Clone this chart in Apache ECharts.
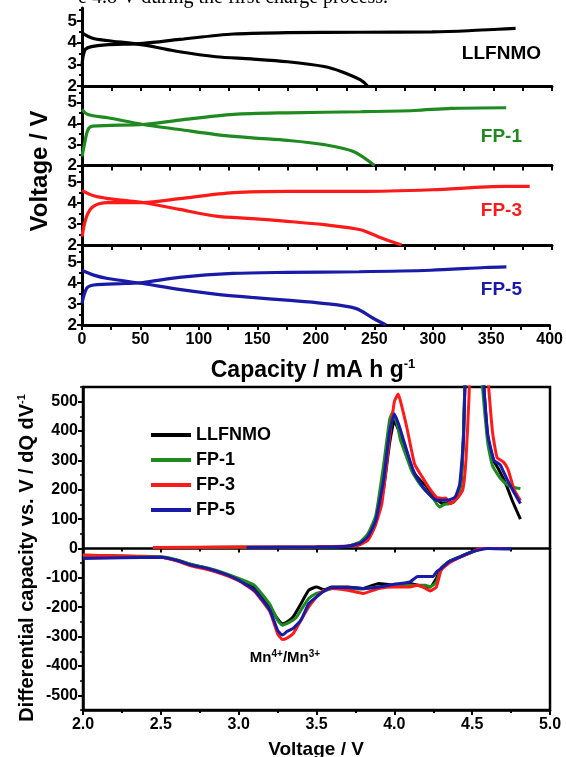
<!DOCTYPE html>
<html>
<head>
<meta charset="utf-8">
<script src="https://cdn.jsdelivr.net/npm/echarts@6/dist/echarts.min.js"></script>
<style>
  html, body { margin: 0; padding: 0; background: #fff; }
  #main { width: 566px; height: 757px; }
</style>
</head>
<body>
<div id="main"></div>
<script>
// names / colours of the four samples
var names = ['LLFNMO', 'FP-1', 'FP-3', 'FP-5']
var colors = ['#000000', '#1f8a1f', '#ff1a1a', '#1a1aa8']

// charge / discharge curves, [capacity mA h g-1, voltage V]
var llfnmoCharge = [[0, 2.9], [1, 3.4], [3, 3.7], [8, 3.82], [20, 3.9], [52, 3.97], [83, 4.15], [129, 4.4], [175, 4.46], [237, 4.48], [298, 4.5], [329, 4.55], [354, 4.62], [369, 4.66]]
var llfnmoDischarge = [[0, 4.45], [9, 4.2], [21, 4.1], [52, 3.9], [83, 3.58], [114, 3.35], [144, 3.25], [175, 3.12], [206, 2.9], [221, 2.66], [237, 2.28], [243, 2.0]]
var fp1Charge = [[0, 2.43], [2, 3.0], [5, 3.7], [9, 3.88], [52, 3.96], [83, 4.17], [129, 4.44], [175, 4.52], [237, 4.57], [283, 4.63], [314, 4.73], [361, 4.76]]
var fp1Discharge = [[0, 4.68], [5, 4.44], [22, 4.28], [52, 3.96], [83, 3.72], [114, 3.48], [145, 3.32], [175, 3.2], [206, 3.0], [231, 2.67], [249, 2.0]]
var fp3Charge = [[0, 2.4], [4, 3.38], [10, 3.86], [22, 4.03], [52, 4.03], [83, 4.22], [129, 4.5], [175, 4.56], [237, 4.56], [298, 4.64], [360, 4.8], [381, 4.8]]
var fp3Discharge = [[0, 4.6], [10, 4.35], [22, 4.22], [52, 4.03], [83, 3.7], [114, 3.38], [145, 3.26], [175, 3.13], [206, 2.97], [237, 2.73], [252, 2.4], [272, 2.0]]
var fp5Charge = [[0, 3.03], [4, 3.74], [10, 3.9], [37, 3.97], [52, 4.02], [83, 4.26], [129, 4.45], [175, 4.5], [237, 4.53], [298, 4.6], [345, 4.73], [363, 4.76]]
var fp5Discharge = [[0, 4.6], [10, 4.37], [22, 4.21], [52, 3.97], [83, 3.69], [114, 3.47], [145, 3.31], [175, 3.18], [206, 3.03], [234, 2.79], [249, 2.32], [260, 2.0]]

// dQ/dV curves, [voltage V, dQ/dV]
var llfnmoDqCh = [[2.45, 3], [3.0, 4], [3.5, 5], [3.7, 8], [3.78, 20], [3.83, 45], [3.88, 90], [3.93, 200], [3.97, 360], [4.0, 435], [4.03, 400], [4.06, 345], [4.1, 290], [4.13, 255], [4.17, 230], [4.2, 215], [4.25, 181], [4.31, 153], [4.38, 158], [4.41, 180], [4.43, 230], [4.445, 400], [4.46, 700], [4.5, 1400], [4.54, 1400], [4.57, 600], [4.6, 380], [4.64, 296], [4.67, 270], [4.72, 215], [4.76, 160], [4.81, 100]]
var fp1DqCh = [[2.45, 3], [3.0, 4], [3.5, 5], [3.7, 8], [3.78, 22], [3.83, 50], [3.88, 110], [3.93, 280], [3.97, 440], [3.99, 464], [4.02, 420], [4.04, 368], [4.08, 310], [4.11, 266], [4.15, 230], [4.18, 209], [4.25, 170], [4.29, 141], [4.32, 150], [4.36, 153], [4.41, 175], [4.43, 240], [4.445, 400], [4.46, 700], [4.5, 1400], [4.54, 1400], [4.56, 600], [4.6, 360], [4.63, 283], [4.68, 240], [4.73, 215], [4.77, 208], [4.81, 204]]
var fp3DqCh = [[2.45, 3], [3.0, 5], [3.5, 6], [3.76, 10], [3.83, 28], [3.875, 74], [3.92, 153], [3.97, 380], [4.0, 500], [4.025, 526], [4.05, 480], [4.08, 413], [4.13, 288], [4.18, 243], [4.22, 209], [4.27, 175], [4.31, 170], [4.33, 172], [4.36, 153], [4.41, 175], [4.44, 200], [4.46, 300], [4.48, 520], [4.5, 900], [4.53, 1400], [4.57, 1400], [4.6, 600], [4.63, 400], [4.66, 310], [4.7, 295], [4.73, 270], [4.77, 200], [4.81, 163]]
var fp5DqCh = [[3.05, 3], [3.5, 5], [3.7, 8], [3.78, 18], [3.83, 40], [3.88, 95], [3.93, 230], [3.97, 400], [4.0, 458], [4.03, 420], [4.06, 368], [4.1, 300], [4.13, 255], [4.17, 220], [4.2, 198], [4.27, 164], [4.34, 164], [4.39, 175], [4.42, 220], [4.445, 380], [4.46, 700], [4.5, 1400], [4.54, 1400], [4.57, 600], [4.6, 390], [4.64, 300], [4.68, 285], [4.72, 240], [4.77, 190], [4.81, 153]]
var llfnmoDqDis = [[2.0, -25], [2.5, -30], [2.6, -40], [2.7, -55], [2.8, -68], [2.9, -85], [3.0, -105], [3.1, -135], [3.2, -200], [3.25, -240], [3.28, -256], [3.31, -250], [3.35, -233], [3.4, -188], [3.45, -142], [3.5, -131], [3.55, -140], [3.6, -131], [3.7, -131], [3.8, -136], [3.9, -119], [4.0, -125], [4.1, -119], [4.2, -131], [4.23, -131], [4.27, -102], [4.3, -68], [4.35, -45], [4.4, -34], [4.5, -11], [4.57, 0], [4.7, 0]]
var fp1DqDis = [[2.0, -23], [2.5, -28], [2.6, -38], [2.7, -55], [2.8, -66], [2.9, -82], [3.0, -102], [3.1, -125], [3.2, -190], [3.25, -244], [3.28, -261], [3.33, -250], [3.37, -235], [3.4, -210], [3.45, -170], [3.5, -153], [3.55, -145], [3.6, -136], [3.7, -136], [3.8, -138], [3.9, -130], [4.0, -128], [4.1, -125], [4.2, -125], [4.23, -131], [4.27, -114], [4.3, -68], [4.35, -45], [4.4, -32], [4.5, -12], [4.57, 0], [4.7, 0]]
var fp3DqDis = [[2.0, -22], [2.5, -30], [2.6, -42], [2.7, -60], [2.8, -72], [2.9, -88], [3.0, -110], [3.1, -145], [3.2, -215], [3.25, -290], [3.28, -310], [3.31, -305], [3.35, -290], [3.4, -244], [3.45, -199], [3.5, -165], [3.55, -142], [3.6, -136], [3.7, -142], [3.8, -153], [3.9, -136], [4.0, -131], [4.1, -131], [4.15, -125], [4.2, -136], [4.23, -145], [4.27, -131], [4.3, -75], [4.35, -50], [4.4, -35], [4.5, -12], [4.55, 0], [4.7, 0]]
var fp5DqDis = [[2.0, -34], [2.5, -30], [2.6, -40], [2.7, -57], [2.8, -68], [2.9, -85], [3.0, -108], [3.1, -142], [3.2, -210], [3.25, -278], [3.28, -295], [3.31, -283], [3.35, -272], [3.4, -244], [3.45, -188], [3.5, -165], [3.55, -145], [3.6, -133], [3.7, -133], [3.8, -136], [3.9, -131], [4.0, -122], [4.1, -114], [4.15, -95], [4.2, -95], [4.25, -95], [4.27, -80], [4.3, -68], [4.35, -45], [4.4, -34], [4.5, -11], [4.6, 0], [4.75, -2]]

// axis ticks
var voltTicks = [2, 3, 4, 5]
var dqTicks = [-500, -400, -300, -200, -100, 0, 100, 200, 300, 400, 500]
var dqMinorTicks = [-550, -450, -350, -250, -150, -50, 50, 150, 250, 350, 450, 550]

var FONT = '"Liberation Sans", Arial, sans-serif'
var chart = echarts.init(document.getElementById('main'))

// top panel grids (stacked)
var tops = [[8, 78, 5.6], [86, 79.5, 5.8], [165.5, 79.5, 5.8], [245, 80, 5.8]]
var grids = []
var xAxes = []
var yAxes = []
tops.forEach(function (t, i) {
  grids.push({left: 82, right: 14, top: t[0], height: t[1]})
  xAxes.push({
    type: 'value', gridIndex: i, min: 0, max: 400, interval: 50,
    axisLine: {onZero: false, lineStyle: {color: '#000', width: 3}},
    axisTick: {length: 5, lineStyle: {color: '#000', width: 2}},
    minorTick: {show: true, splitNumber: 2, length: 5, lineStyle: {color: '#000', width: 2}},
    splitLine: {show: false},
    axisLabel: {show: i === 3, color: '#000', fontFamily: FONT, fontWeight: 'bold', fontSize: 16, margin: 7}
  })
  yAxes.push({
    type: 'value', gridIndex: i, min: 2, max: t[2], interval: 1,
    axisLine: {onZero: false, lineStyle: {color: '#000', width: 3}},
    axisTick: {length: 5, customValues: voltTicks, lineStyle: {color: '#000', width: 2}},
    minorTick: {show: true, splitNumber: 2, length: 3, lineStyle: {color: '#000', width: 2}},
    splitLine: {show: false},
    axisLabel: {customValues: voltTicks, color: '#000', fontFamily: FONT, fontWeight: 'bold', fontSize: 17, margin: 5}
  })
})

// bottom panel (dQ/dV)
grids.push({left: 83, right: 16, top: 387, height: 323, show: true, borderColor: '#000', borderWidth: 2.5})
xAxes.push({
  type: 'value', gridIndex: 4, min: 2, max: 5, interval: 0.5, position: 'bottom',
  axisLine: {onZero: false, lineStyle: {color: '#000', width: 2.5}},
  axisTick: {length: 5, lineStyle: {color: '#000', width: 2}},
  minorTick: {show: true, splitNumber: 2, length: 3, lineStyle: {color: '#000', width: 2}},
  splitLine: {show: false},
  axisLabel: {color: '#000', fontFamily: FONT, fontWeight: 'bold', fontSize: 16, margin: 7,
    formatter: function (v) { return v.toFixed(1) }}
})
xAxes.push({
  type: 'value', gridIndex: 4, min: 2, max: 5, interval: 0.5, position: 'top',
  axisLine: {onZero: true, lineStyle: {color: '#000', width: 2.5}},
  axisTick: {inside: true, length: 4, lineStyle: {color: '#000', width: 2}},
  minorTick: {show: true, splitNumber: 2, length: 3, lineStyle: {color: '#000', width: 2}},
  splitLine: {show: false},
  axisLabel: {show: false}
})
yAxes.push({
  type: 'value', gridIndex: 4, min: -550, max: 550, interval: 50, position: 'left',
  axisLine: {onZero: false, lineStyle: {color: '#000', width: 2.5}},
  axisTick: {length: 5, customValues: dqTicks, lineStyle: {color: '#000', width: 2}},
  splitLine: {show: false},
  axisLabel: {customValues: dqTicks, color: '#000', fontFamily: FONT, fontWeight: 'bold', fontSize: 16, margin: 5}
})
yAxes.push({
  type: 'value', gridIndex: 4, min: -550, max: 550, interval: 50, position: 'left',
  axisLine: {show: false, onZero: false},
  axisTick: {length: 3, customValues: dqMinorTicks, lineStyle: {color: '#000', width: 1.5}},
  splitLine: {show: false},
  axisLabel: {show: false}
})

function line (name, color, data, xi, yi, w) {
  return {
    name: name, type: 'line', xAxisIndex: xi, yAxisIndex: yi, data: data,
    showSymbol: false, symbol: 'none', smooth: 0.3, clip: true, animation: false,
    lineStyle: {color: color, width: w}, itemStyle: {color: color}
  }
}

var capCurves = [[llfnmoCharge, llfnmoDischarge], [fp1Charge, fp1Discharge], [fp3Charge, fp3Discharge], [fp5Charge, fp5Discharge]]
var dqCurves = [[llfnmoDqCh, llfnmoDqDis], [fp1DqCh, fp1DqDis], [fp3DqCh, fp3DqDis], [fp5DqCh, fp5DqDis]]
var series = []
capCurves.forEach(function (c, i) {
  series.push(line(names[i], colors[i], c[0], i, i, 3.2))
  series.push(line(names[i], colors[i], c[1], i, i, 3.2))
})
dqCurves.forEach(function (c, i) {
  var s1 = line(names[i], colors[i], c[0], 4, 4, 3)
  var s2 = line(names[i], colors[i], c[1], 4, 4, 3)
  s1.smooth = 0.15
  s2.smooth = 0.15
  series.push(s1, s2)
})

// labels of the top panel
var sampleLabels = [[541, 54], [522, 137], [522, 211], [522, 290]]
var graphics = sampleLabels.map(function (p, i) {
  return {type: 'text', x: p[0], y: p[1], style: {text: names[i], fill: colors[i], font: 'bold 19px ' + FONT, textAlign: 'right', textVerticalAlign: 'middle'}}
})
graphics.push(
  {type: 'text', x: 78, y: 8, style: {text: 'e 4.8 V during the first charge process.', fill: '#000', font: '20px "Liberation Serif", "Times New Roman", serif', textAlign: 'left', textVerticalAlign: 'bottom'}},
  {type: 'text', x: 40, y: 171, rotation: Math.PI / 2, style: {text: 'Voltage / V', fill: '#000', font: 'bold 24px ' + FONT, textAlign: 'center', textVerticalAlign: 'middle'}},
  {type: 'text', x: 313, y: 371, style: {
    text: '{a|Capacity / mA h g}{b|-1}', textAlign: 'center', textVerticalAlign: 'middle',
    rich: {
      a: {fill: '#000', fontFamily: FONT, fontWeight: 'bold', fontSize: 23, lineHeight: 26},
      b: {fill: '#000', fontFamily: FONT, fontWeight: 'bold', fontSize: 13, lineHeight: 13, verticalAlign: 'top'}
    }
  }},
  {type: 'text', x: 27, y: 558, rotation: Math.PI / 2, style: {
    text: '{a|Differential capacity vs. V / dQ dV}{b|-1}', textAlign: 'center', textVerticalAlign: 'middle',
    rich: {
      a: {fill: '#000', fontFamily: FONT, fontWeight: 'bold', fontSize: 20, lineHeight: 22},
      b: {fill: '#000', fontFamily: FONT, fontWeight: 'bold', fontSize: 11, lineHeight: 11, verticalAlign: 'top'}
    }
  }},
  {type: 'text', x: 316, y: 750, style: {text: 'Voltage / V', fill: '#000', font: 'bold 19px ' + FONT, textAlign: 'center', textVerticalAlign: 'middle'}},
  {type: 'text', x: 285, y: 658, style: {
    text: '{a|Mn}{b|4+}{a|/Mn}{b|3+}', textAlign: 'center', textVerticalAlign: 'middle',
    rich: {
      a: {fill: '#000', fontFamily: FONT, fontWeight: 'bold', fontSize: 15, lineHeight: 17},
      b: {fill: '#000', fontFamily: FONT, fontWeight: 'bold', fontSize: 10, lineHeight: 10, verticalAlign: 'top'}
    }
  }}
)

var option = {
  backgroundColor: '#fff',
  animation: false,
  grid: grids,
  xAxis: xAxes,
  yAxis: yAxes,
  legend: {
    data: names, orient: 'vertical', left: 146, top: 421, selectedMode: false,
    icon: 'rect', itemWidth: 40, itemHeight: 4, itemGap: 7,
    textStyle: {color: '#000', fontFamily: FONT, fontWeight: 'bold', fontSize: 18, lineHeight: 16}
  },
  graphic: graphics,
  series: series
}
chart.setOption(option)
</script>
</body>
</html>
